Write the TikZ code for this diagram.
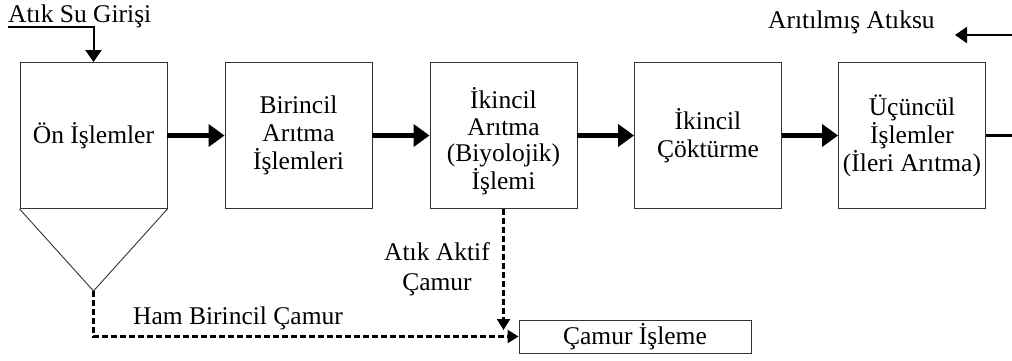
\documentclass[tikz,border=0pt]{standalone}
\usepackage{fontspec}
\setmainfont{Liberation Serif}
\usetikzlibrary{arrows.meta}
\begin{document}
\begin{tikzpicture}[x=1pt,y=-1pt,
  every node/.style={font=\fontsize{25.5}{28}\selectfont},
  procbox/.style={draw=black!80,line width=0.9pt,minimum width=147pt,minimum height=146pt,inner sep=0pt,align=center},
  lbl/.style={inner sep=0pt},
  flow/.style={line width=5pt,-{Triangle[length=16pt,width=22pt]}},
  thin flow/.style={line width=2pt,-{Triangle[length=12pt,width=16pt]}},
  sludge/.style={line width=2.2pt,dash pattern=on 6pt off 3pt,-{Triangle[length=11pt,width=13pt]}}
]
\useasboundingbox (0,0) rectangle (1012,361);
% boxes
\node[procbox] (b1) at (93.5,135.5) {Ön İşlemler};
\node[procbox] (b2) at (298.5,135.5) {Birincil\\Arıtma\\İşlemleri};
\node[procbox] (b3) at (503.5,135.5) {};
\node[lbl,align=center,font=\fontsize{25.5}{26.5}\selectfont] (t3) at (503.5,141) {İkincil\\Arıtma\\(Biyolojik)\\İşlemi};
\node[procbox] (b4) at (708,135.5) {İkincil\\Çöktürme};
\node[procbox] (b5) at (912,135.5) {Üçüncül\\İşlemler\\(İleri Arıtma)};
\node[draw=black!80,line width=0.9pt,minimum width=232pt,minimum height=33pt,inner sep=0pt] (sl) at (635,336.5) {Çamur İşleme};
% funnel
\coordinate (apex) at (93.5,291);
\draw[black!80,line width=0.9pt] (b1.south west) -- (apex) -- (b1.south east);
% main flow
\draw[flow] (b1.east) -- (b2.west);
\draw[flow] (b2.east) -- (b3.west);
\draw[flow] (b3.east) -- (b4.west);
\draw[flow] (b4.east) -- (b5.west);
\coordinate (exitE) at (1012,135.5);
\draw[line width=2.5pt] (b5.east) -- (exitE);
% input
\node[lbl,anchor=base west] (inl) at (8,23) {Atık Su Girişi};
\coordinate (inp) at (8,27);
\draw[thin flow] (inp) -| (b1.north);
% output
\node[lbl,anchor=base west] (outl) at (768,29) {Arıtılmış Atıksu};
\coordinate (outS) at (1012,35);
\coordinate (outE) at (955,35);
\draw[thin flow] (outS) -- (outE);
% sludge lines
\draw[sludge] (apex) |- (sl.west);
\coordinate (wasE) at (503.5,330);
\draw[sludge] (b3.south) -- (wasE);
\node[lbl,anchor=base west] (haml) at (133,324) {Ham Birincil Çamur};
\node[lbl,align=center,font=\fontsize{25.5}{30}\selectfont] (wasl) at (437,269) {Atık Aktif\\Çamur};
\end{tikzpicture}
\end{document}
